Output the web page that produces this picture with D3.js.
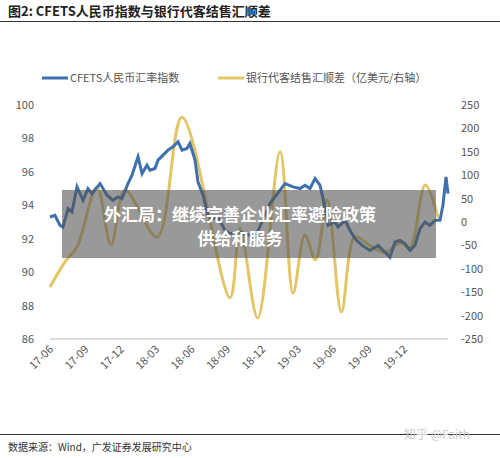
<!DOCTYPE html>
<html><head><meta charset="utf-8">
<script src="https://cdn.jsdelivr.net/npm/d3@7"></script>
<style>body{margin:0;background:#fff}text{font-family:"Noto Sans CJK SC","Noto Sans",sans-serif}</style>
</head><body><svg id="c" width="500" height="458"></svg>
<script>
const xTicks=["17-06","17-09","17-12","18-03","18-06","18-09","18-12","19-03","19-06","19-09","19-12"];
const leftTicks=[86,88,90,92,94,96,98,100];
const rightTicks=[-250,-200,-150,-100,-50,0,50,100,150,200,250];
const cfetsMonth=[0,.42,.85,1.1,1.53,1.86,2.29,2.8,3.22,3.56,4.24,4.83,5.34,5.76,6.1,6.61,6.95,7.46,7.8,8.22,8.47,8.9,9.15,9.58,10,10.42,10.85,11.19,11.61,11.86,12.29,12.54,12.97,13.39,13.81,14.24,14.83,15.25,16.1,17.37,17.97,18.64,19.92,20.59,21.19,21.61,22.03,22.46,22.88,23.14,23.56,24.15,24.41,25,25.42,25.85,26.44,27.12,27.8,28.39,28.81,29.24,29.66,30.08,30.51,30.93,31.36,31.78,32.2,32.63,33.05,33.3,33.56,33.73];
const cfetsValue=[93.3,93.4,92.8,92.7,93.8,93.6,95.1,94.3,95.0,94.7,95.3,94.6,94.3,94.5,94.4,95.3,95.8,96.9,95.9,96.4,96.1,96.2,96.7,97.0,97.3,97.5,97.8,97.3,97.4,97.7,96.7,95.4,94.6,93.4,93.2,93.3,92.5,92.3,92.4,92.1,93.0,94.1,95.3,95.1,95.0,95.2,95.0,95.6,95.2,94.4,92.8,93.0,92.7,93.1,92.5,92.0,91.6,91.3,91.6,91.2,90.9,91.8,91.9,91.7,91.3,91.6,92.6,93.0,92.8,93.1,93.1,94.0,95.7,94.7];
const flowMonth=[0,1.27,2.29,3.98,5.17,6.36,9.07,11.19,15.25,16.1,17.6,19.5,20.6,21.6,22.5,23.5,24.7,25.85,27.1,28.4,29.7,30.5,31.8,32.9];
const flowValue=[-139,-85,-53,75,-49,68,-32,224,-162,-13,-205,150,-152,-28,-81,47,-192,-32,-50,-65,-45,-55,79,9];

const svg=d3.select("#c");
const x=d3.scaleLinear().domain([0,30]).range([50,404]);
const yL=d3.scaleLinear().domain([86,100]).range([339,105]);
const yR=d3.scaleLinear().domain([-250,250]).range([339,105]);
const g=svg.append("g");
g.append("line").attr("x1",50).attr("x2",448).attr("y1",339).attr("y2",339).attr("stroke","#d0d0d0").attr("stroke-width",1.5);
g.selectAll(".lt").data(leftTicks).join("text").attr("x",34).attr("y",d=>yL(d)+4).attr("text-anchor","end").attr("font-size",11).attr("fill","#555").text(d=>d);
g.selectAll(".rt").data(rightTicks).join("text").attr("x",461).attr("y",d=>yR(d)+4).attr("font-size",11).attr("fill","#555").text(d=>d);
g.selectAll(".xt").data(xTicks).join("text").attr("font-size",11).attr("fill","#555").attr("text-anchor","end")
 .attr("transform",(d,i)=>`translate(${x(i*3)+4},${350}) rotate(-45)`).text(d=>d);
g.append("path").datum(flowMonth.map((m,i)=>[m,flowValue[i]])).attr("fill","none").attr("stroke","#e3c565").attr("stroke-width",3)
 .attr("d",d3.line().x(d=>x(d[0])).y(d=>yR(d[1])).curve(d3.curveCatmullRom));
g.append("path").datum(cfetsMonth.map((m,i)=>[m,cfetsValue[i]])).attr("fill","none").attr("stroke","#3e6fae").attr("stroke-width",3)
 .attr("d",d3.line().x(d=>x(d[0])).y(d=>yL(d[1])));
// title
svg.append("text").attr("x",8).attr("y",16).attr("font-size",13).attr("font-weight","bold").attr("fill","#222").text("图2:  CFETS人民币指数与银行代客结售汇顺差");
svg.append("line").attr("x1",0).attr("x2",500).attr("y1",21.5).attr("y2",21.5).attr("stroke","#333").attr("stroke-width",1.2);
// legend
svg.append("line").attr("x1",42).attr("x2",68).attr("y1",78).attr("y2",78).attr("stroke","#3e6fae").attr("stroke-width",3);
svg.append("text").attr("x",70).attr("y",82).attr("font-size",11).attr("fill","#555").text("CFETS人民币汇率指数");
svg.append("line").attr("x1",218).attr("x2",244).attr("y1",78).attr("y2",78).attr("stroke","#e3c565").attr("stroke-width",3);
svg.append("text").attr("x",246).attr("y",82).attr("font-size",11).attr("fill","#555").text("银行代客结售汇顺差（亿美元/右轴）");
// overlay
svg.append("rect").attr("x",62).attr("y",190).attr("width",374).attr("height",68).attr("fill","#555").attr("opacity",0.6);
svg.append("text").attr("x",240).attr("y",221).attr("text-anchor","middle").attr("font-size",17).attr("font-weight","bold").attr("fill","#fff").text("外汇局：继续完善企业汇率避险政策");
svg.append("text").attr("x",240).attr("y",245).attr("text-anchor","middle").attr("font-size",17).attr("font-weight","bold").attr("fill","#fff").text("供给和服务");
// footer
svg.append("line").attr("x1",0).attr("x2",500).attr("y1",434.5).attr("y2",434.5).attr("stroke","#333").attr("stroke-width",1);
svg.append("text").attr("x",404).attr("y",439).attr("font-size",12).attr("fill","#ccc").text("知乎 @Faith");
svg.append("text").attr("x",8).attr("y",451).attr("font-size",10).attr("fill","#333").text("数据来源：Wind，广发证券发展研究中心");
</script></body></html>
